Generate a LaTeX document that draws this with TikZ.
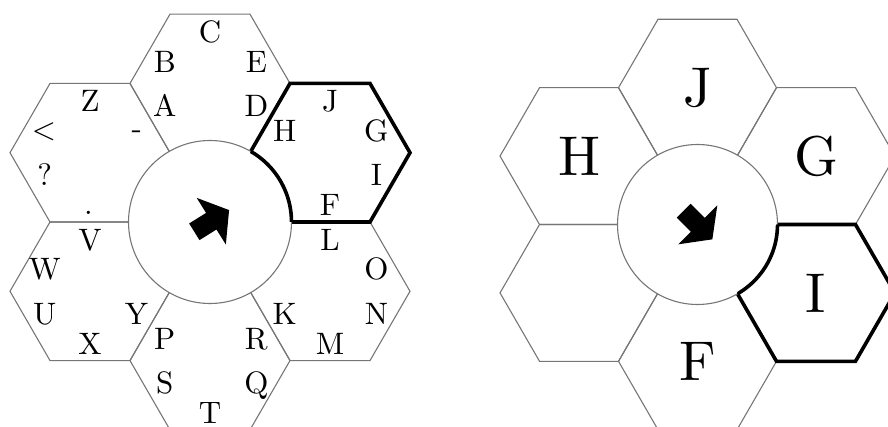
\documentclass[tikz,border=0pt]{standalone}
\usepackage{fontspec}
\newfontfamily\lmten{lmroman10-regular.otf}
\usetikzlibrary{calc}
\definecolor{hexgray}{RGB}{118,118,118}
\newcommand{\hexpts}[3]{(#1+#3,#2) -- (#1+0.5*#3,#2-0.8660254*#3) -- (#1-0.5*#3,#2-0.8660254*#3) -- (#1-#3,#2) -- (#1-0.5*#3,#2+0.8660254*#3) -- (#1+0.5*#3,#2+0.8660254*#3) -- cycle}
\newcommand{\fatarrow}[6]{%
  \fill[black,shift={(#1,#2)},rotate=#3] (#4,-9.8) -- (#5,-9.8) -- (#5,-27.5) -- (#6,0) -- (#5,27.5) -- (#5,9.8) -- (#4,9.8) -- cycle;}
\begin{document}
\begin{tikzpicture}[x=1pt,y=-1pt,
  hexline/.style={draw=hexgray,line width=1.1pt},
  boldline/.style={draw=black,line width=3.6pt,line join=miter},
  lt/.style={anchor=base,inner sep=0pt,font=\lmten\fontsize{31}{31}\selectfont},
  bigl/.style={anchor=base,inner sep=0pt,font=\lmten\fontsize{56}{56}\selectfont}]
\useasboundingbox (0,0) rectangle (888,427);
\clip (0,0) rectangle (888,427);
% ---------------- left diagram ----------------
\coordinate (Lc) at (210,222);
\coordinate (h1) at (210,83.436);
\coordinate (h2) at (330,152.718);
\coordinate (h3) at (330,291.282);
\coordinate (h4) at (210,360.564);
\coordinate (h5) at (90,291.282);
\coordinate (h6) at (90,152.718);
\draw[hexline] \hexpts{210}{83.436}{80};
\draw[hexline] \hexpts{330}{152.718}{80};
\draw[hexline] \hexpts{330}{291.282}{80};
\draw[hexline] \hexpts{210}{360.564}{80};
\draw[hexline] \hexpts{90}{291.282}{80};
\draw[hexline] \hexpts{90}{152.718}{80};
\draw[boldline] \hexpts{330}{152.718}{80};
\draw[hexline,fill=white] (Lc) circle[radius=81.5pt];
\begin{scope}
  \clip \hexpts{330}{152.718}{80};
  \draw[boldline] (Lc) circle[radius=81.5pt];
\end{scope}
\fatarrow{210}{222}{32}{-18.5}{1.5}{22.5}
% letters, top hex
\node[lt] (lC) at ($(h1)+(0,-41)$) {C};
\node[lt] (lB) at ($(h1)+(-45.2,-11.4)$) {B};
\node[lt] (lE) at ($(h1)+(46.4,-11.4)$) {E};
\node[lt] (lA) at ($(h1)+(-45.2,33.2)$) {A};
\node[lt] (lD) at ($(h1)+(46.4,33.2)$) {D};
% upper right hex
\node[lt] (lJ) at ($(h2)+(0,-41)$) {J};
\node[lt] (lH) at ($(h2)+(-45.2,-11.4)$) {H};
\node[lt] (lG) at ($(h2)+(46.4,-11.4)$) {G};
\node[lt] (lI) at ($(h2)+(46.4,33.2)$) {I};
\node[lt] (lF) at ($(h2)+(0,63)$) {F};
% lower right hex
\node[lt] (lL) at ($(h3)+(0,-41)$) {L};
\node[lt] (lO) at ($(h3)+(46.4,-11.4)$) {O};
\node[lt] (lN) at ($(h3)+(46.4,33.2)$) {N};
\node[lt] (lK) at ($(h3)+(-45.2,33.2)$) {K};
\node[lt] (lM) at ($(h3)+(0,63)$) {M};
% bottom hex
\node[lt] (lP) at ($(h4)+(-45.2,-11.4)$) {P};
\node[lt] (lR) at ($(h4)+(46.4,-11.4)$) {R};
\node[lt] (lS) at ($(h4)+(-45.2,33.2)$) {S};
\node[lt] (lQ) at ($(h4)+(46.4,33.2)$) {Q};
\node[lt] (lT) at ($(h4)+(0,62.5)$) {T};
% lower left hex
\node[lt] (lV) at ($(h5)+(0,-41)$) {V};
\node[lt] (lW) at ($(h5)+(-45.2,-11.4)$) {W};
\node[lt] (lU) at ($(h5)+(-45.2,33.2)$) {U};
\node[lt] (lY) at ($(h5)+(46.4,33.2)$) {Y};
\node[lt] (lX) at ($(h5)+(0,63)$) {X};
% upper left hex
\node[lt] (lZ) at ($(h6)+(0,-41)$) {Z};
\node[lt] (llt) at ($(h6)+(-46,-13.3)$) {<};
\node[lt] (ldash) at ($(h6)+(46.7,-14.7)$) {-};
\node[lt] (lq) at ($(h6)+(-45.2,33.2)$) {?};
\node[lt] (ldot) at ($(h6)+(-1.5,61.5)$) {.};
% ---------------- right diagram ----------------
\coordinate (Rc) at (697.5,224.5);
\coordinate (k1) at (697.5,87.7);
\coordinate (k2) at (815.97,156.1);
\coordinate (k3) at (815.97,292.9);
\coordinate (k4) at (697.5,361.3);
\coordinate (k5) at (579.03,292.9);
\coordinate (k6) at (579.03,156.1);
\draw[hexline] \hexpts{697.5}{87.7}{79};
\draw[hexline] \hexpts{815.97}{156.1}{79};
\draw[hexline] \hexpts{815.97}{292.9}{79};
\draw[hexline] \hexpts{697.5}{361.3}{79};
\draw[hexline] \hexpts{579.03}{292.9}{79};
\draw[hexline] \hexpts{579.03}{156.1}{79};
\draw[boldline] \hexpts{815.97}{292.9}{79};
\draw[hexline,fill=white] (Rc) circle[radius=80pt];
\begin{scope}
  \clip \hexpts{815.97}{292.9}{79};
  \draw[boldline] (Rc) circle[radius=80pt];
\end{scope}
\fatarrow{697.5}{224.5}{-45}{-19.5}{0.5}{21}
\node[bigl] (rJ) at ($(k1)+(0,19.2)$) {J};
\node[bigl] (rG) at ($(k2)+(0,19.2)$) {G};
\node[bigl] (rI) at ($(k3)+(0,19.2)$) {I};
\node[bigl] (rF) at ($(k4)+(0,19.2)$) {F};
\node[bigl] (rH) at ($(k6)+(0,19.2)$) {H};
\end{tikzpicture}
\end{document}
